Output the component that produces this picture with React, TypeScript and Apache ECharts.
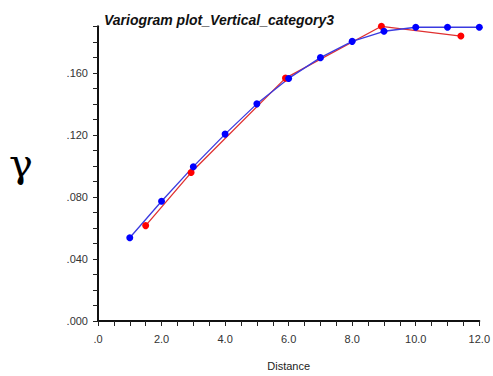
import React, { useEffect, useRef } from "react";
import * as echarts from "echarts";

const blueX = [1.0, 2.0, 3.0, 4.0, 5.0, 6.0, 7.0, 8.0, 9.0, 10.0, 11.0, 12.0];
const blueY = [0.0537, 0.0772, 0.0995, 0.1205, 0.140, 0.1564, 0.1698, 0.1803, 0.1868, 0.1894, 0.1894, 0.1894];
const redX = [1.5, 2.93, 5.9, 8.92, 11.42];
const redY = [0.0615, 0.0957, 0.1566, 0.190, 0.1837];

const titleText = "Variogram plot_Vertical_category3";
const xName = "Distance";
const yName = "γ";

function fmtY(v: number): string {
  const r = v / 0.04;
  if (Math.abs(r - Math.round(r)) > 1e-6) return "";
  return v.toFixed(3).replace(/^0/, "");
}
function fmtX(v: number): string {
  const r = v / 2;
  if (Math.abs(r - Math.round(r)) > 1e-6) return "";
  return v.toFixed(1).replace(/^0/, "");
}

export default function App() {
  const ref = useRef<HTMLDivElement>(null);
  useEffect(() => {
    if (!ref.current) return;
    const chart = echarts.init(ref.current, null, { renderer: "svg" });
    const font = "'Liberation Sans', Arial, sans-serif";
    chart.setOption({
      animation: false,
      backgroundColor: "#ffffff",
      title: {
        text: titleText,
        left: 99,
        top: 8,
        textStyle: { fontFamily: font, fontSize: 14, fontWeight: "bold", fontStyle: "italic", color: "#111" },
      },
      graphic: [
        {
          type: "text",
          left: 9,
          top: 143,
          style: { text: yName, font: "40px 'DejaVu Serif', 'Liberation Serif', serif", fill: "#000" },
        },
      ],
      grid: { left: 98, right: 11, top: 26.3, bottom: 47.7 },
      xAxis: {
        type: "value",
        min: 0,
        max: 12,
        interval: 0.5,
        name: xName,
        nameLocation: "middle",
        nameGap: 39,
        nameTextStyle: { fontFamily: font, fontSize: 11, color: "#222" },
        axisLine: { show: true, lineStyle: { color: "#111", width: 2 } },
        axisTick: { show: true, length: 5, lineStyle: { color: "#222", width: 1 } },
        axisLabel: { formatter: fmtX, fontFamily: font, fontSize: 11, color: "#333", margin: 12, showMaxLabel: true, showMinLabel: true },
        splitLine: { show: false },
      },
      yAxis: {
        type: "value",
        min: 0,
        max: 0.19,
        interval: 0.01,
        axisLine: { show: true, lineStyle: { color: "#111", width: 2 } },
        axisTick: { show: true, length: 5, lineStyle: { color: "#222", width: 1 } },
        axisLabel: { formatter: fmtY, fontFamily: font, fontSize: 11, color: "#333", margin: 10 },
        splitLine: { show: false },
      },
      series: [
        {
          type: "line",
          data: redX.map((x, i) => [x, redY[i]]),
          symbol: "circle",
          symbolSize: 7,
          clip: false,
          lineStyle: { color: "#e03030", width: 1.3 },
          itemStyle: { color: "#ff0000" },
        },
        {
          type: "line",
          data: blueX.map((x, i) => [x, blueY[i]]),
          symbol: "circle",
          symbolSize: 7,
          clip: false,
          lineStyle: { color: "#3a3ae0", width: 1.3 },
          itemStyle: { color: "#0000ff" },
        },
      ],
    });
    return () => chart.dispose();
  }, []);
  return <div ref={ref} style={{ width: 493, height: 376, position: "absolute", left: 0, top: 0 }} />;
}
